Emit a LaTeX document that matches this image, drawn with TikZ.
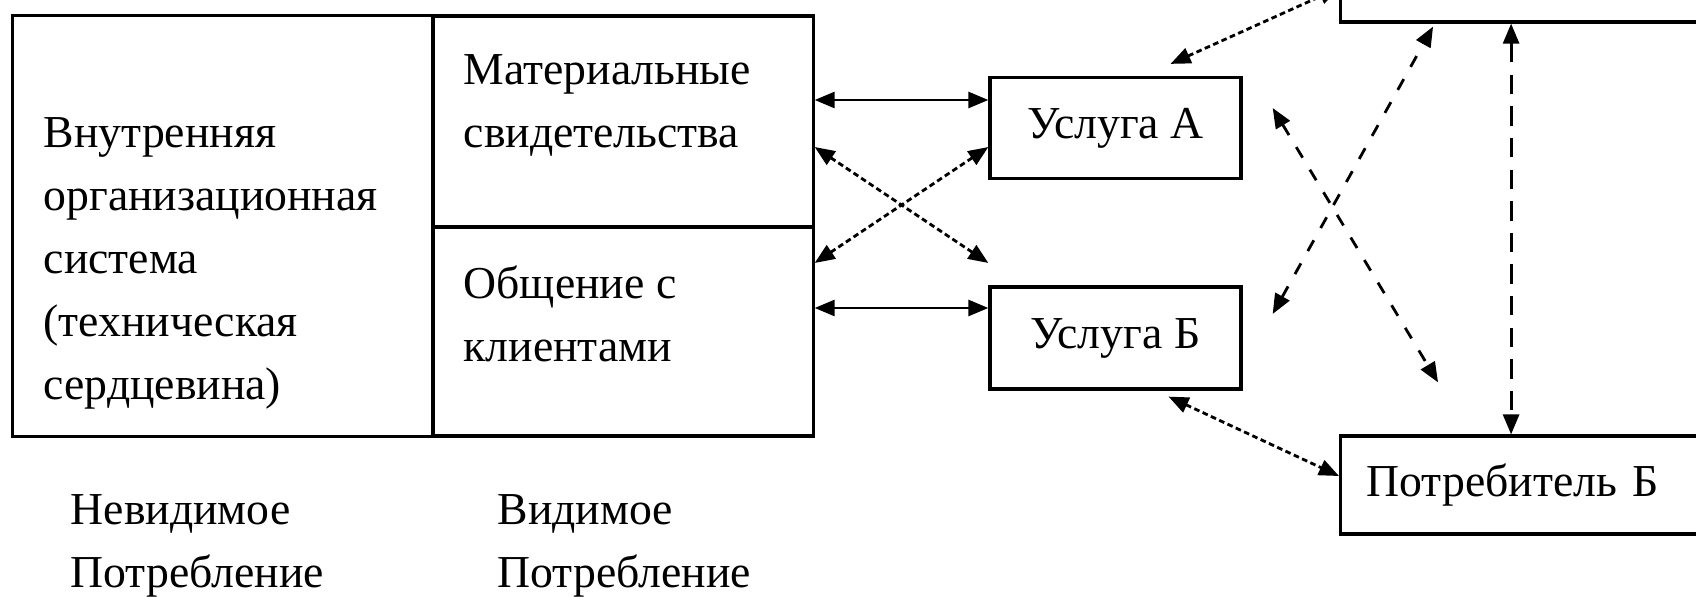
\documentclass[tikz,border=0pt]{standalone}
\usepackage{fontspec}
\setmainfont{Liberation Serif}
\usetikzlibrary{arrows.meta}

\begin{document}
\begin{tikzpicture}[x=0.01cm,y=-0.01cm,
    box/.style={draw,line width=0.9pt,inner sep=0pt},
    txt/.style={font=\fontsize{13}{17.9}\selectfont,align=left,inner sep=0pt},
    twotips/.style={{Triangle[length=2mm,width=1.6mm]}-{Triangle[length=2mm,width=1.6mm]}},
    solidlink/.style={twotips,line width=0.8pt},
    finelink/.style={twotips,line width=0.8pt,dash pattern=on 1.6pt off 1pt},
    midlink/.style={twotips,line width=0.8pt,dash pattern=on 3.5pt off 4pt},
    longlink/.style={twotips,line width=0.8pt,dash pattern=on 5.5pt off 3.5pt}]
  \useasboundingbox[fill=white] (0,0) rectangle (1696,596);
  % Блок организации
  \node[box,minimum width=4.2cm,minimum height=4.2cm] (core) at (223,226) {};
  \node[box,minimum width=3.8cm,minimum height=2.11cm] (evid) at (623,121.5) {};
  \node[box,minimum width=3.8cm,minimum height=2.09cm] (talk) at (623,331.5) {};
  \node[txt,anchor=north west] (coretext) at (43,117) {Внутренняя\\организационная\\система\\(техническая\\сердцевина)};
  \node[txt,anchor=north west] (evidtext) at (463,54) {Материальные\\свидетельства};
  \node[txt,anchor=north west] (talktext) at (463,265) {Общение с\\клиентами};
  % Подписи снизу
  \node[txt,anchor=north west] (hidden) at (70,494) {Невидимое\\Потребление};
  \node[txt,anchor=north west] (shown) at (497,494) {Видимое\\Потребление};
  % Услуги и потребители
  \node[box,txt,minimum width=2.51cm,minimum height=1.01cm] (ua) at (1115.5,128) {Услуга А};
  \node[box,txt,minimum width=2.51cm,minimum height=1.02cm] (ub) at (1115.5,338) {Услуга Б};
  \node[box,txt,anchor=west,minimum height=0.98cm,text width=3.3cm,inner xsep=0.26cm] (pa) at (1339,-27) {Потребитель А};
  \node[box,txt,anchor=west,minimum height=0.98cm,text width=3.3cm,inner xsep=0.26cm] (pb) at (1339,485) {Потребитель Б};
  % Связи блока с услугами
  \coordinate (uain) at ([yshift=2.8mm]ua.west);
  \coordinate (ubin) at ([yshift=3mm]ub.west);
  \draw[solidlink] (uain -| evid.east) -- (uain);
  \draw[solidlink] (ubin -| talk.east) -- (ubin);
  \draw[finelink] ([yshift=-2.55mm]evid.east) -- ([yshift=7.5mm]ub.west);
  \draw[finelink] ([yshift=6.85mm]talk.east) -- ([yshift=-1.9mm]ua.west);
  % Связи услуг с потребителями
  \draw[finelink] ([xshift=5.5mm,yshift=1.2mm]ua.north) -- ([yshift=-1.5mm]pa.west);
  \draw[finelink] ([xshift=5.3mm,yshift=-0.6mm]ub.south) -- ([yshift=0.9mm]pb.west);
  \draw[midlink] ([xshift=3mm,yshift=2mm]ua.east) -- ([xshift=9.9mm,yshift=5.2mm]pb.north west);
  \draw[midlink] ([xshift=3mm,yshift=2.4mm]ub.east) -- ([xshift=9.4mm,yshift=-0.3mm]pa.south west);
  \draw[longlink] ([xshift=17.2mm]pa.south west) -- ([xshift=17.2mm]pb.north west);
\end{tikzpicture}
\end{document}
